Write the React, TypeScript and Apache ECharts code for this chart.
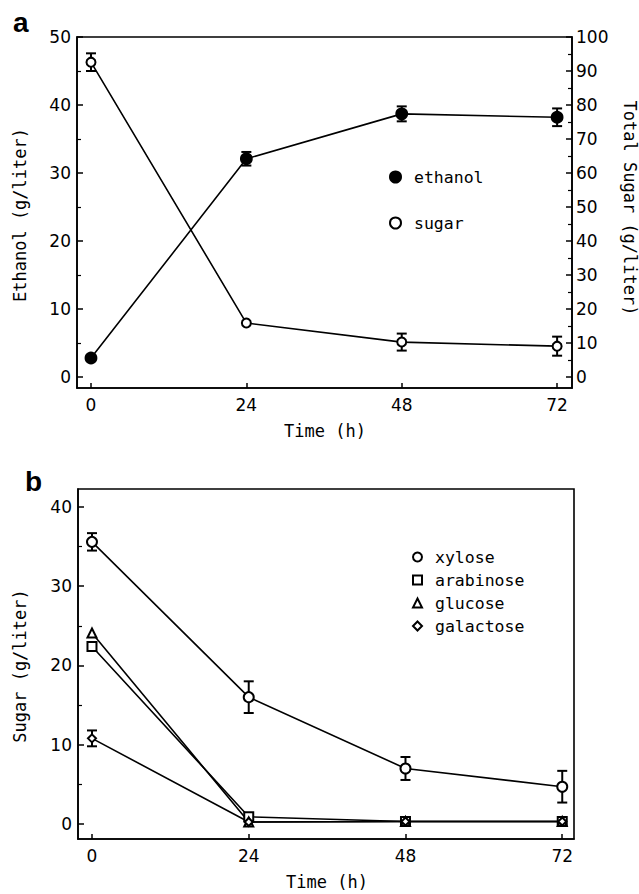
import React, { useEffect, useRef } from "react";
import * as echarts from "echarts";

// ---- Data (panel a) ----
const TIME = [0, 24, 48, 72];
const ETHANOL = [2.8, 32.1, 38.7, 38.2];
const ETHANOL_ERR = [0, 1.0, 1.1, 1.3];
const TOTAL_SUGAR = [92.6, 15.9, 10.3, 9.1];
const TOTAL_SUGAR_ERR = [2.6, 0, 2.5, 2.8];

// ---- Data (panel b) ----
const XYLOSE = [35.6, 16.0, 7.0, 4.7];
const XYLOSE_ERR = [1.1, 2.0, 1.45, 2.0];
const ARABINOSE = [22.4, 0.9, 0.3, 0.3];
const GLUCOSE = [24.1, 0.25, 0.3, 0.3];
const GALACTOSE = [10.8, 0.25, 0.3, 0.3];
const GALACTOSE_ERR = [1.0, 0, 0, 0];

// ---- Tick labels ----
const X_TICKS = [0, 24, 48, 72];
const ETHANOL_TICKS = [0, 10, 20, 30, 40, 50];
const ETHANOL_MINOR = [5, 15, 25, 35, 45];
const SUGAR_TICKS = [0, 10, 20, 30, 40, 50, 60, 70, 80, 90, 100];
const SUGAR_MINOR = [5, 15, 25, 35, 45, 55, 65, 75, 85, 95];
const B_TICKS = [0, 10, 20, 30, 40];
const B_MINOR = [5, 15, 25, 35];

const MONO = "DejaVu Sans Mono";
const SANS = "DejaVu Sans";

function errorSeries(name: string, xs: number[], ys: number[], es: number[], xi: number, yi: number) {
  const data = xs.map((x, i) => [x, ys[i], es[i]]).filter((d) => d[2] > 0);
  return {
    type: "custom",
    name,
    xAxisIndex: xi,
    yAxisIndex: yi,
    z: 1,
    silent: true,
    data,
    renderItem: (_p: any, api: any) => {
      const x = api.value(0);
      const y = api.value(1);
      const e = api.value(2);
      const top = api.coord([x, y + e]);
      const bot = api.coord([x, y - e]);
      const w = 5;
      const st = { stroke: "#000", lineWidth: 2 };
      return {
        type: "group",
        children: [
          { type: "line", shape: { x1: top[0], y1: top[1], x2: bot[0], y2: bot[1] }, style: st },
          { type: "line", shape: { x1: top[0] - w, y1: top[1], x2: top[0] + w, y2: top[1] }, style: st },
          { type: "line", shape: { x1: bot[0] - w, y1: bot[1], x2: bot[0] + w, y2: bot[1] }, style: st },
        ],
      };
    },
  };
}

function lineSeries(name: string, ys: number[], symbol: string, size: number, xi: number, yi: number) {
  return {
    type: "line",
    name,
    xAxisIndex: xi,
    yAxisIndex: yi,
    z: 3,
    data: TIME.map((t, i) => [t, ys[i]]),
    symbol,
    symbolSize: size,
    showAllSymbol: true,
    lineStyle: { color: "#000", width: 1.6 },
    itemStyle: { color: "#000", borderColor: "#000", borderWidth: 1.8 },
  };
}

const tickLabel = { color: "#000", fontFamily: SANS, fontSize: 17 };

function xAxisDef(grid: number, min: number, max: number) {
  return {
    type: "value",
    gridIndex: grid,
    min,
    max,
    axisLine: { show: true, onZero: false, lineStyle: { color: "#000", width: 1.6 } },
    axisTick: { show: true, inside: true, length: 5, customValues: X_TICKS, lineStyle: { color: "#000", width: 1.5 } },
    axisLabel: { show: true, customValues: X_TICKS, margin: 8, ...tickLabel },
    splitLine: { show: false },
  };
}

function yAxisDef(grid: number, min: number, max: number, pos: string, ticks: number[], margin: number) {
  return {
    type: "value",
    gridIndex: grid,
    position: pos,
    min,
    max,
    axisLine: { show: true, onZero: false, lineStyle: { color: "#000", width: 1.6 } },
    axisTick: { show: true, inside: true, length: 6, customValues: ticks, lineStyle: { color: "#000", width: 1.5 } },
    axisLabel: { show: true, customValues: ticks, margin, ...tickLabel },
    splitLine: { show: false },
  };
}

function minorAxisDef(grid: number, min: number, max: number, pos: string, ticks: number[]) {
  return {
    type: "value",
    gridIndex: grid,
    position: pos,
    min,
    max,
    axisLine: { show: false, onZero: false },
    axisTick: { show: true, inside: true, length: 4, customValues: ticks, lineStyle: { color: "#000", width: 1.2 } },
    axisLabel: { show: false },
    splitLine: { show: false },
  };
}

export default function App() {
  const ref = useRef<HTMLDivElement>(null);
  useEffect(() => {
    if (!ref.current) return;
    const chart = echarts.init(ref.current, null, { renderer: "svg" });
    const legendText = { color: "#000", fontFamily: MONO, fontSize: 16.5, lineHeight: 20, padding: [0, 0, 0, 8] };
    chart.setOption({
      animation: false,
      backgroundColor: "#fff",
      grid: [
        { left: 77, top: 37, width: 495, height: 351, show: true, borderColor: "#000", borderWidth: 1.6, backgroundColor: "transparent" },
        { left: 78, top: 489, width: 496, height: 350, show: true, borderColor: "#000", borderWidth: 1.6, backgroundColor: "transparent" },
      ],
      xAxis: [xAxisDef(0, -2.16, 74.3), xAxisDef(1, -2.14, 73.8)],
      yAxis: [
        yAxisDef(0, -1.6, 50, "left", ETHANOL_TICKS, 6),
        minorAxisDef(0, -1.6, 50, "left", ETHANOL_MINOR),
        yAxisDef(0, -3.2, 100, "right", SUGAR_TICKS, 4),
        minorAxisDef(0, -3.2, 100, "right", SUGAR_MINOR),
        yAxisDef(1, -1.9, 42.27, "left", B_TICKS, 6),
        minorAxisDef(1, -1.9, 42.27, "left", B_MINOR),
      ],
      legend: [
        {
          left: 389,
          top: 167,
          orient: "vertical",
          padding: 0,
          itemGap: 26,
          itemWidth: 11,
          itemHeight: 11,
          selectedMode: false,
          textStyle: legendText,
          data: [
            { name: "ethanol", icon: "circle" },
            { name: "sugar", icon: "emptyCircle" },
          ],
        },
        {
          left: 412,
          top: 547,
          orient: "vertical",
          padding: 0,
          itemGap: 3,
          itemWidth: 9,
          itemHeight: 9,
          selectedMode: false,
          textStyle: legendText,
          data: [
            { name: "xylose", icon: "emptyCircle" },
            { name: "arabinose", icon: "emptyRect" },
            { name: "glucose", icon: "emptyTriangle" },
            { name: "galactose", icon: "emptyDiamond" },
          ],
        },
      ],
      graphic: [
        { type: "text", x: 13, y: 22, style: { text: "a", font: "bold 28px 'Liberation Sans'", fill: "#000", textAlign: "left", textVerticalAlign: "middle" } },
        { type: "text", x: 25, y: 481, style: { text: "b", font: "bold 28px 'Liberation Sans'", fill: "#000", textAlign: "left", textVerticalAlign: "middle" } },
        { type: "text", x: 325, y: 431, style: { text: "Time (h)", font: `17px '${MONO}'`, fill: "#000", textAlign: "center", textVerticalAlign: "middle" } },
        { type: "text", x: 327, y: 882, style: { text: "Time (h)", font: `17px '${MONO}'`, fill: "#000", textAlign: "center", textVerticalAlign: "middle" } },
        { type: "text", x: 20, y: 215, rotation: Math.PI / 2, style: { text: "Ethanol (g/liter)", font: `17px '${MONO}'`, fill: "#000", textAlign: "center", textVerticalAlign: "middle" } },
        { type: "text", x: 630, y: 208, rotation: -Math.PI / 2, style: { text: "Total Sugar (g/liter)", font: `17px '${MONO}'`, fill: "#000", textAlign: "center", textVerticalAlign: "middle" } },
        { type: "text", x: 20, y: 666, rotation: Math.PI / 2, style: { text: "Sugar (g/liter)", font: `17px '${MONO}'`, fill: "#000", textAlign: "center", textVerticalAlign: "middle" } },
      ],
      series: [
        errorSeries("ethanol-err", TIME, ETHANOL, ETHANOL_ERR, 0, 0),
        errorSeries("sugar-err", TIME, TOTAL_SUGAR, TOTAL_SUGAR_ERR, 0, 2),
        lineSeries("ethanol", ETHANOL, "circle", 11, 0, 0),
        lineSeries("sugar", TOTAL_SUGAR, "emptyCircle", 9, 0, 2),
        errorSeries("xylose-err", TIME, XYLOSE, XYLOSE_ERR, 1, 4),
        errorSeries("galactose-err", TIME, GALACTOSE, GALACTOSE_ERR, 1, 4),
        lineSeries("xylose", XYLOSE, "emptyCircle", 10, 1, 4),
        lineSeries("arabinose", ARABINOSE, "emptyRect", 9, 1, 4),
        lineSeries("glucose", GLUCOSE, "emptyTriangle", 9, 1, 4),
        lineSeries("galactose", GALACTOSE, "emptyDiamond", 8, 1, 4),
      ],
    });
    return () => chart.dispose();
  }, []);
  return <div ref={ref} style={{ position: "absolute", left: 0, top: 0, width: 639, height: 894, background: "#fff" }} />;
}
